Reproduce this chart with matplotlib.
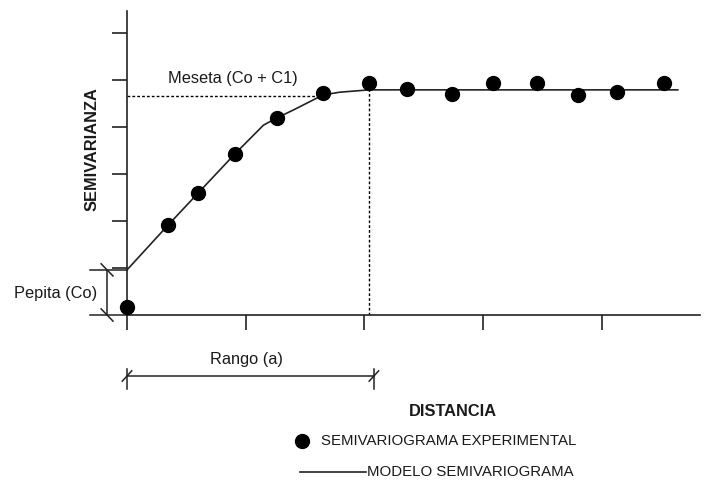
import matplotlib
matplotlib.use("Agg")
import matplotlib.pyplot as plt

plt.rcParams['font.family'] = ['Liberation Sans', 'DejaVu Sans']

# ---- data (x = distancia, y = semivarianza) ----
exp_x = [0, 0.345, 0.60, 0.91, 1.26, 1.65, 2.04, 2.36, 2.74, 3.08, 3.45, 3.80, 4.13, 4.52]
exp_y = [0.17, 1.91, 2.60, 3.43, 4.19, 4.72, 4.94, 4.81, 4.70, 4.94, 4.94, 4.68, 4.74, 4.94]

model_x = [0, 0.345, 0.59, 0.91, 1.15, 1.26, 1.40, 1.65, 1.79, 2.04, 4.64]
model_y = [0.96, 1.91, 2.57, 3.43, 4.04, 4.19, 4.36, 4.68, 4.74, 4.79, 4.79]

nugget = 0.96      # Co
sill = 4.67        # Co + C1 (dotted guide)
sill_model = 4.79
range_a = 2.04     # a

x_ticks = [0, 1, 2, 3, 4]
y_ticks = [1, 2, 3, 4, 5, 6]

# ---- figure ----
W, H = 708, 482
fig = plt.figure(figsize=(W / 100, H / 100), dpi=100)
ax = fig.add_axes([127 / W, (H - 315) / H, (700 - 127) / W, (315 - 11) / H])
ax.set_xlim(0, 4.827)
ax.set_ylim(0, 6.468)

for s in ['top', 'right']:
    ax.spines[s].set_visible(False)
for s in ['left', 'bottom']:
    ax.spines[s].set_linewidth(1.2)
    ax.spines[s].set_color('#222222')

ax.set_xticks(x_ticks)
ax.set_yticks(y_ticks)
ax.set_xticklabels([])
ax.set_yticklabels([])
ax.tick_params(direction='out', length=11, width=1.2, color='#222222')

# model and experimental points
ax.plot(model_x, model_y, color='#222222', lw=1.2, clip_on=False, zorder=2)
ax.plot(exp_x, exp_y, 'o', color='black', ms=10, clip_on=False, zorder=3)

# dotted guides
ax.plot([0, 1.63], [sill, sill], color='black', lw=1, ls=(0, (2, 1.5)), zorder=1)
ax.plot([range_a, range_a], [0, sill_model], color='black', lw=1, ls=(0, (2, 1.5)), zorder=1)

kw = dict(color='#222222', lw=1.1, clip_on=False)

# pepita bracket
px = -0.168
ax.plot([-0.312, 0], [nugget, nugget], **kw)
ax.plot([-0.312, 0], [0, 0], **kw)
ax.plot([px, px], [0, nugget], **kw)
for yy in [0, nugget]:
    ax.plot([px - 0.05, px + 0.05], [yy + 0.13, yy - 0.13], **kw)

# rango bracket
ry = -1.298
ax.plot([0, 2.08], [ry, ry], **kw)
for xx in [0, 2.08]:
    ax.plot([xx, xx], [-1.15, -1.57], **kw)
    ax.plot([xx - 0.04, xx + 0.04], [ry - 0.11, ry + 0.11], **kw)

txt = dict(color='#1a1a1a', fontsize=11.8)
ax.text(0.345, 5.04, 'Meseta (Co + C1)', ha='left', va='center', **txt)
ax.text(-0.25, 0.468, 'Pepita (Co)', ha='right', va='center', **txt)
ax.text(1.01, -0.957, 'Rango (a)', ha='center', va='center', **txt)
ax.text(-0.295, 3.53, 'SEMIVARIANZA', rotation=90, ha='center', va='center',
        fontweight='bold', color='#1a1a1a', fontsize=11.8)
ax.text(2.746, -2.06, 'DISTANCIA', ha='center', va='center',
        fontweight='bold', color='#1a1a1a', fontsize=11.8)

# legend drawn by hand
leg = dict(color='#1a1a1a', fontsize=10.8)
ax.plot([1.474], [-2.68], 'o', color='black', ms=10, clip_on=False)
ax.text(1.634, -2.68, 'SEMIVARIOGRAMA EXPERIMENTAL', ha='left', va='center', **leg)
ax.plot([1.457, 2.013], [-3.34, -3.34], color='#222222', lw=1.2, clip_on=False)
ax.text(2.022, -3.34, 'MODELO SEMIVARIOGRAMA', ha='left', va='center', **leg)

fig.savefig('out.png', dpi=100)
